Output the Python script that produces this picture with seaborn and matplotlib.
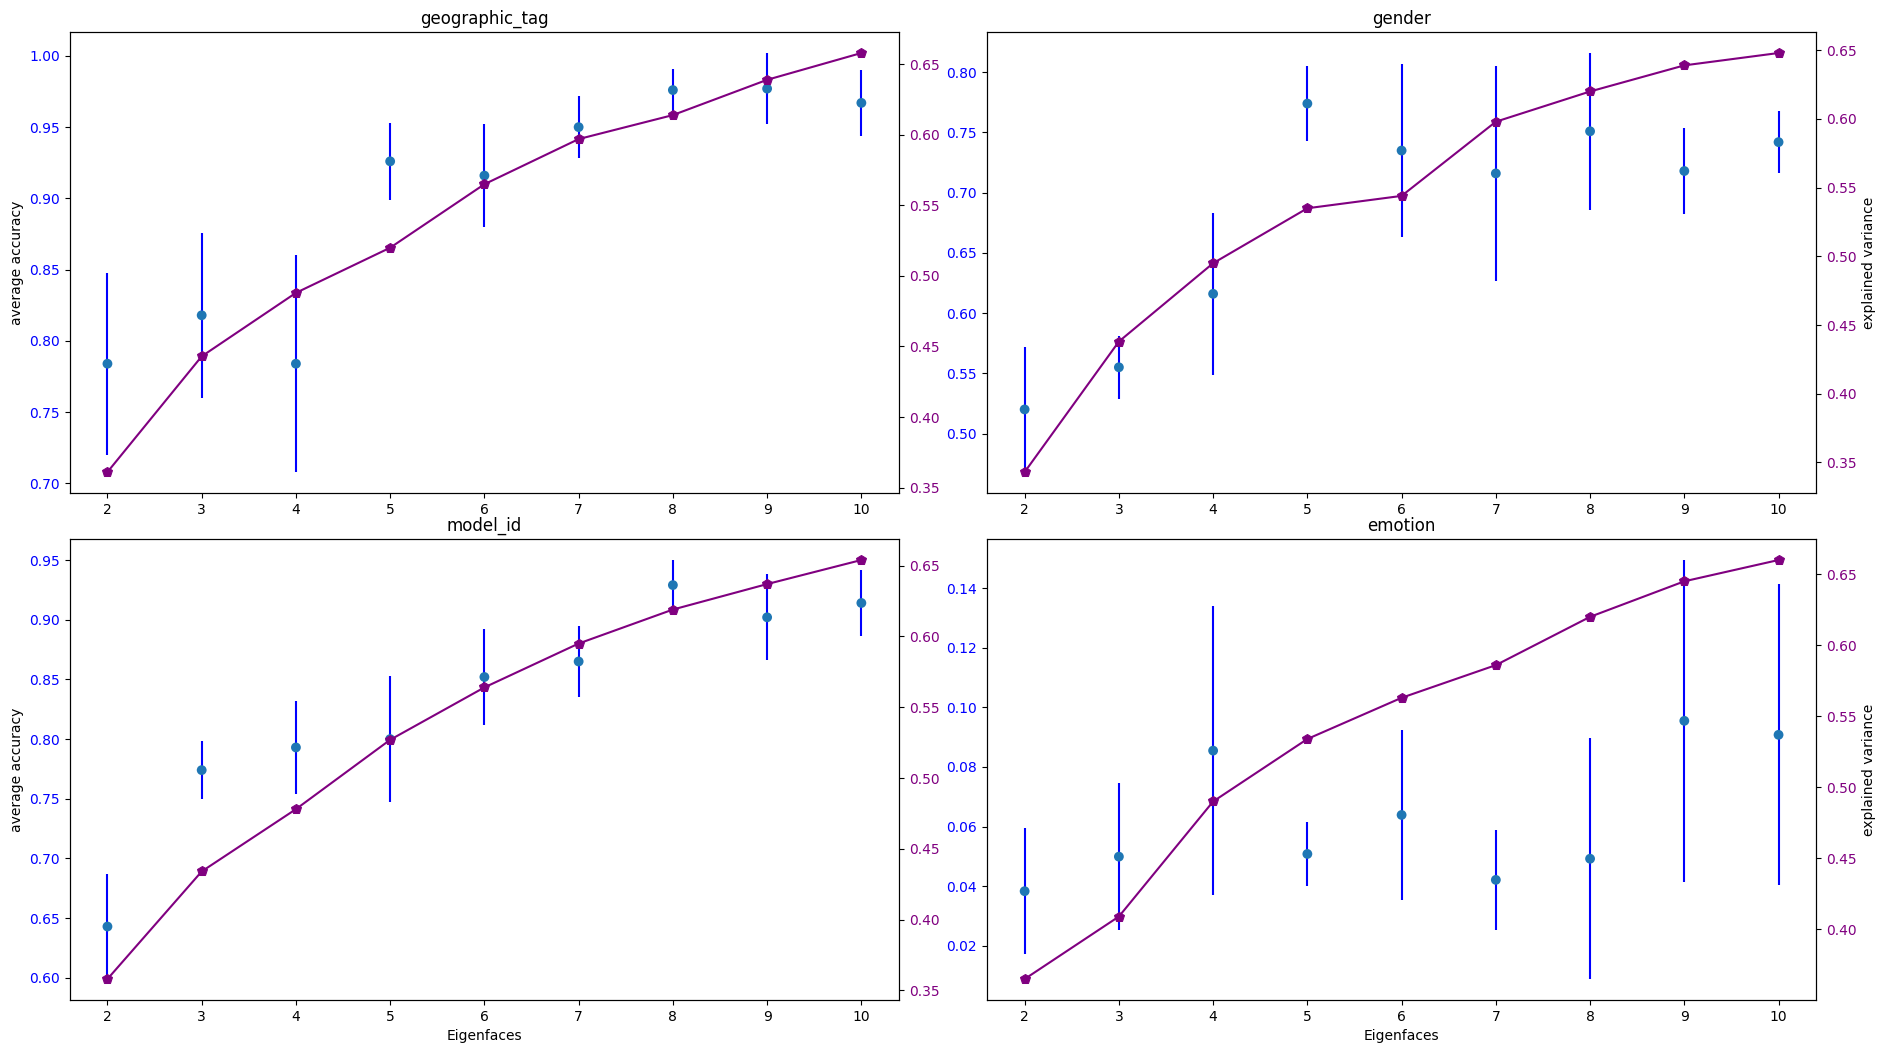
import matplotlib
matplotlib.use("Agg")
import matplotlib.pyplot as plt
import seaborn as sns
import numpy as np
import pandas as pd

eigenfaces = [2, 3, 4, 5, 6, 7, 8, 9, 10]

titles = ["geographic_tag", "gender", "model_id", "emotion"]

geo_acc = [0.784, 0.818, 0.784, 0.926, 0.916, 0.950, 0.976, 0.977, 0.967]
geo_std = [0.064, 0.058, 0.076, 0.027, 0.036, 0.022, 0.015, 0.025, 0.023]
geo_var = [0.361, 0.443, 0.488, 0.520, 0.565, 0.597, 0.614, 0.639, 0.658]

gender_acc = [0.520, 0.555, 0.616, 0.774, 0.735, 0.716, 0.751, 0.718, 0.742]
gender_std = [0.052, 0.026, 0.067, 0.031, 0.072, 0.089, 0.065, 0.036, 0.026]
gender_var = [0.343, 0.438, 0.495, 0.535, 0.544, 0.598, 0.620, 0.639, 0.648]

model_acc = [0.643, 0.774, 0.793, 0.800, 0.852, 0.865, 0.929, 0.902, 0.914]
model_std = [0.044, 0.024, 0.039, 0.053, 0.040, 0.030, 0.021, 0.036, 0.028]
model_var = [0.358, 0.434, 0.478, 0.527, 0.564, 0.595, 0.619, 0.637, 0.654]

emotion_acc = [0.0383, 0.0499, 0.0855, 0.0508, 0.0639, 0.0421, 0.0492, 0.0955, 0.0908]
emotion_std = [0.0212, 0.0246, 0.0485, 0.0106, 0.0284, 0.0167, 0.0404, 0.0540, 0.0505]
emotion_var = [0.365, 0.409, 0.490, 0.534, 0.563, 0.586, 0.620, 0.645, 0.660]

accs = [geo_acc, gender_acc, model_acc, emotion_acc]
stds = [geo_std, gender_std, model_std, emotion_std]
vars_ = [geo_var, gender_var, model_var, emotion_var]

fig, axes = plt.subplots(2, 2, figsize=(18.86, 10.53), dpi=100)
for i, ax in enumerate(axes.flat):
    df = pd.DataFrame({"k": eigenfaces, "acc": accs[i], "std": stds[i], "var": vars_[i]})
    ax.errorbar(df["k"], df["acc"], yerr=df["std"], fmt="none", ecolor="blue", zorder=1)
    sns.scatterplot(data=df, x="k", y="acc", ax=ax, color="#1f77b4", s=50,
                    edgecolor="none", zorder=2)
    ax.set_title(titles[i], fontsize=12)
    ax.tick_params(axis="y", labelcolor="blue")
    ax2 = ax.twinx()
    sns.lineplot(data=df, x="k", y="var", ax=ax2, color="purple", marker="p",
                 markersize=7.5, markeredgecolor="purple")
    ax2.tick_params(axis="y", labelcolor="purple")
    ax.set_xticks(eigenfaces)
    if i % 2 == 0:
        ax.set_ylabel("average accuracy")
        ax2.set_ylabel("")
    else:
        ax.set_ylabel("")
        ax2.set_ylabel("explained variance")
    if i >= 2:
        ax.set_xlabel("Eigenfaces")
    else:
        ax.set_xlabel("")
    ax2.set_xlabel("")

fig.tight_layout(pad=0.7, h_pad=0.0, w_pad=0.5)
fig.savefig("out.png", dpi=100)
